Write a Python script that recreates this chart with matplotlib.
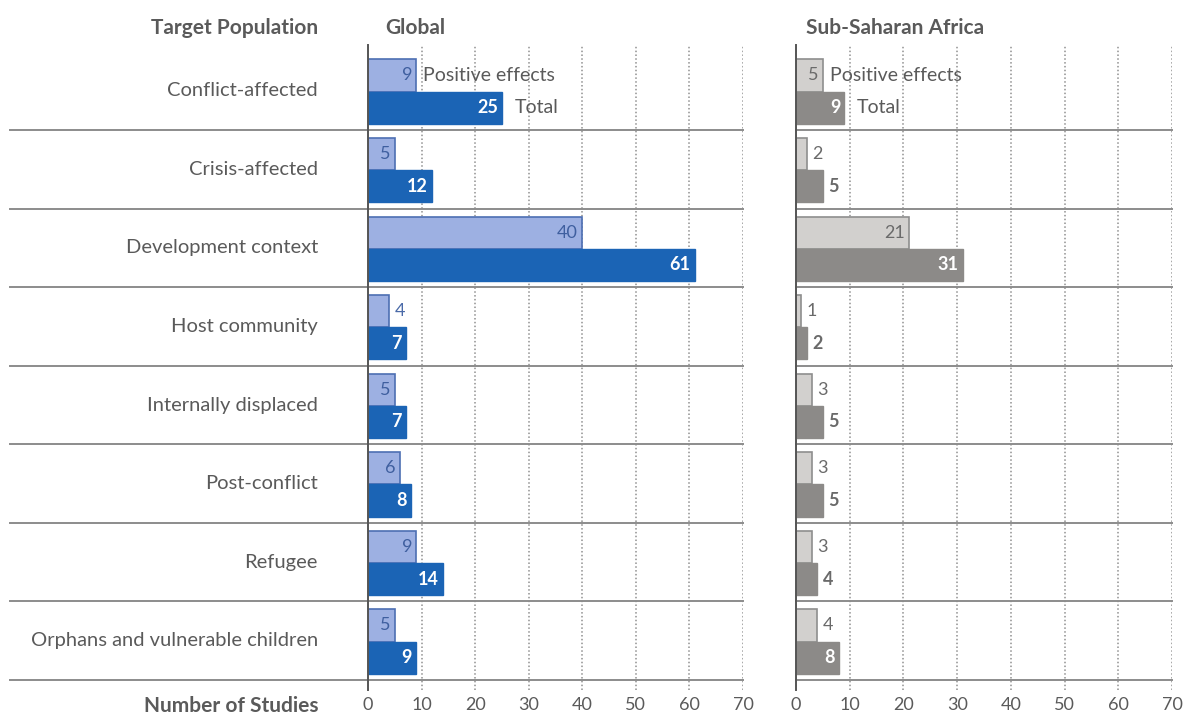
import numpy as np
import matplotlib
matplotlib.use("Agg")
import matplotlib.pyplot as plt
import matplotlib.transforms as mtransforms

plt.rcParams['font.family'] = ['Lato', 'DejaVu Sans']

# donnees
categories = ["Conflict-affected", "Crisis-affected", "Development context",
              "Host community", "Internally displaced", "Post-conflict",
              "Refugee", "Orphans and vulnerable children"]
global_positive = [9, 5, 40, 4, 5, 6, 9, 5]
global_total = [25, 12, 61, 7, 7, 8, 14, 9]
ssa_positive = [5, 2, 21, 1, 3, 3, 3, 4]
ssa_total = [9, 5, 31, 2, 5, 5, 4, 8]
xticks = [0, 10, 20, 30, 40, 50, 60, 70]

W, H = 1184, 718
fig = plt.figure(figsize=(W / 100, H / 100), dpi=100)

txt_col = "#5a5a5a"
line_col = "#8c8c8c"

def px_box(x0, x1, y0, y1):
    return [x0 / W, 1 - y1 / H, (x1 - x0) / W, (y1 - y0) / H]

ax1 = fig.add_axes(px_box(368, 743, 45, 690))
ax2 = fig.add_axes(px_box(796, 1172, 45, 690))

n = len(categories)
y = np.arange(n)
bh = 0.41


def panel(ax, pos, tot, c_light, e_light, c_dark, lab_light, lab_out, th_pos, th_tot, sep_left):
    ax.set_xlim(0, 70)
    ax.set_ylim(n + 0.127, -0.083)
    ax.barh(y + 0.305, pos, height=bh, color=c_light, edgecolor=e_light, linewidth=1.2, zorder=3)
    ax.barh(y + 0.715, tot, height=bh, color=c_dark, edgecolor=c_dark, linewidth=1, zorder=3)
    for i in range(n):
        if pos[i] >= th_pos:
            ax.annotate(str(pos[i]), (pos[i], y[i] + 0.305), xytext=(-3, 0), textcoords="offset points",
                        ha="right", va="center", fontsize=13, color=lab_light, zorder=4)
        else:
            ax.annotate(str(pos[i]), (pos[i], y[i] + 0.305), xytext=(4, 0), textcoords="offset points",
                        ha="left", va="center", fontsize=13, color=lab_out, zorder=4)
        if tot[i] >= th_tot:
            ax.annotate(str(tot[i]), (tot[i], y[i] + 0.715), xytext=(-3, 0), textcoords="offset points",
                        ha="right", va="center", fontsize=13, fontweight="bold", color="white", zorder=4)
        else:
            ax.annotate(str(tot[i]), (tot[i], y[i] + 0.715), xytext=(4, 0), textcoords="offset points",
                        ha="left", va="center", fontsize=13, fontweight="bold", color=lab_out, zorder=4)
    # legende dans la premiere ligne
    ax.annotate("Positive effects", (pos[0], 0.305), xytext=(5, 0), textcoords="offset points",
                ha="left", va="center", fontsize=14, color=txt_col, zorder=4)
    ax.annotate("Total", (tot[0], 0.715), xytext=(9, 0), textcoords="offset points",
                ha="left", va="center", fontsize=14, color=txt_col, zorder=4)
    # separateurs
    for k in range(1, n + 1):
        ax.axhline(k, xmin=sep_left, xmax=1.0, color=line_col, linewidth=1.4, clip_on=False, zorder=2)
    ax.set_xticks(xticks)
    ax.set_yticks([])
    ax.grid(axis="x", linestyle=(0, (1, 1.5)), color="#909090", linewidth=1.1, zorder=1)
    ax.tick_params(axis="x", length=0, labelsize=13, labelcolor=txt_col, pad=5)
    for s in ["top", "right", "bottom"]:
        ax.spines[s].set_visible(False)
    ax.spines["left"].set_color("#555555")
    ax.spines["left"].set_linewidth(1.4)
    ax.spines["left"].set_zorder(5)


panel(ax1, global_positive, global_total, "#9db0e2", "#4d6fb3", "#1b64b5", "#3f5f9f", "#4a6aa8", 5, 5,
      (10 - 368) / 375)
panel(ax2, ssa_positive, ssa_total, "#d2d0ce", "#8e8e8e", "#8c8a88", "#6a6a6a", "#6a6a6a", 5, 6, 0.0)

# etiquettes des categories
tr = mtransforms.blended_transform_factory(ax1.transAxes, ax1.transData)
xl = (318 - 368) / 375
for i, c in enumerate(categories):
    ax1.text(xl, i + 0.5, c, transform=tr, ha="right", va="center", fontsize=14.5, color=txt_col)

fig.text(318 / W, 1 - 28 / H, "Target Population", ha="right", va="center", fontsize=15,
         fontweight="bold", color=txt_col)
fig.text(385 / W, 1 - 28 / H, "Global", ha="left", va="center", fontsize=15,
         fontweight="bold", color=txt_col)
fig.text(806 / W, 1 - 28 / H, "Sub-Saharan Africa", ha="left", va="center", fontsize=15,
         fontweight="bold", color=txt_col)
fig.text(318 / W, 1 - 706 / H, "Number of Studies", ha="right", va="center", fontsize=15,
         fontweight="bold", color=txt_col)

fig.savefig("out.png", dpi=100)
